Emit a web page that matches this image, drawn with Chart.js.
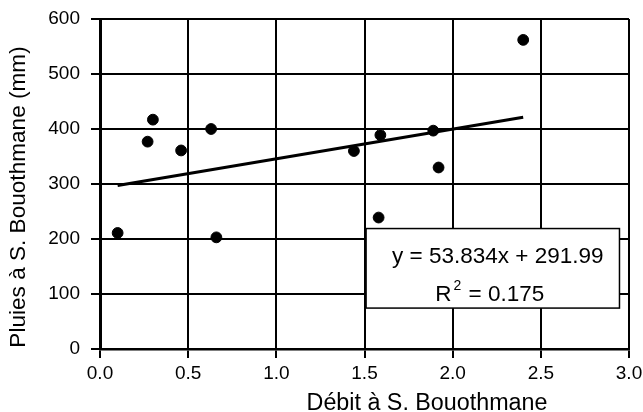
<!DOCTYPE html>
<html>
<head>
<meta charset="utf-8">
<script src="https://cdn.jsdelivr.net/npm/chart.js@4/dist/chart.umd.min.js"></script>
<style>
  html, body { margin: 0; padding: 0; background: #fff; }
  canvas { display: block; }
</style>
</head>
<body>
<canvas id="chart" width="643" height="412"></canvas>
<script>
// data
const debit = [0.10, 0.27, 0.30, 0.46, 0.63, 0.66, 1.44, 1.58, 1.59, 1.89, 1.92, 2.40];
const pluies = [211, 377, 417, 361, 400, 203, 360, 239, 389, 397, 330, 562];

const trendX = [0.10, 2.40];
const trendY = [297.4, 421.2];

const xTitle = 'Débit à S. Bouothmane';
const yTitle = 'Pluies à S. Bouothmane (mm)';
const eqLine = 'y = 53.834x + 291.99';
const r2Value = ' = 0.175';

const FONT = '"Liberation Sans", Arial, sans-serif';

const labelsPlugin = {
    id: 'labels',
    afterDatasetsDraw(chart) {
        const ctx = chart.ctx;
        const a = chart.chartArea;
        const w = a.right - a.left, h = a.bottom - a.top;

        // equation box
        const bx = a.left + w * 0.503, by = a.top + h * 0.635;
        const bw = w * 0.479, bh = h * 0.241;
        ctx.save();
        ctx.fillStyle = '#fff';
        ctx.fillRect(bx, by, bw, bh);
        ctx.strokeStyle = '#000';
        ctx.lineWidth = 1.5;
        ctx.strokeRect(bx, by, bw, bh);

        ctx.fillStyle = '#000';
        ctx.font = '22.5px ' + FONT;
        ctx.textBaseline = 'alphabetic';
        ctx.textAlign = 'center';
        ctx.fillText(eqLine, bx + bw / 2 + 5, by + 34);

        // R² line with small superscript
        ctx.textAlign = 'left';
        const rW = ctx.measureText('R').width;
        const restW = ctx.measureText(r2Value).width;
        ctx.font = '14px ' + FONT;
        const supW = ctx.measureText('2').width + 3;
        const total = rW + supW + restW;
        let x0 = bx + bw / 2 - total / 2 - 3;
        ctx.font = '22.5px ' + FONT;
        ctx.fillText('R', x0, by + 72);
        ctx.font = '14px ' + FONT;
        ctx.fillText('2', x0 + rW + 2, by + 61);
        ctx.font = '22.5px ' + FONT;
        ctx.fillText(r2Value, x0 + rW + supW, by + 72);

        // axis titles
        ctx.font = '23.3px ' + FONT;
        ctx.textAlign = 'center';
        ctx.fillText(xTitle, 427, 410);

        ctx.font = '22.6px ' + FONT;
        ctx.translate(25, 197);
        ctx.rotate(-Math.PI / 2);
        ctx.fillText(yTitle, 0, 0);
        ctx.restore();
    }
};

new Chart(document.getElementById('chart'), {
    type: 'scatter',
    data: {
        datasets: [
            {
                label: 'Pluies',
                data: debit.map((x, i) => ({ x: x, y: pluies[i] })),
                backgroundColor: '#000',
                borderColor: '#000',
                pointRadius: 5.4,
                pointHoverRadius: 5.4,
                order: 1
            },
            {
                type: 'line',
                label: 'Tendance',
                data: trendX.map((x, i) => ({ x: x, y: trendY[i] })),
                borderColor: '#000',
                borderWidth: 3,
                pointRadius: 0,
                fill: false,
                order: 2
            }
        ]
    },
    options: {
        responsive: false,
        animation: false,
        layout: { padding: { top: 19, right: 14, left: 0, bottom: 0 } },
        plugins: {
            legend: { display: false },
            tooltip: { enabled: false }
        },
        scales: {
            x: {
                type: 'linear',
                min: 0,
                max: 3,
                afterFit: s => { s.height = 63; s.paddingLeft = 0; s.paddingRight = 0; },
                ticks: {
                    stepSize: 0.5,
                    color: '#000',
                    padding: 4,
                    font: { family: FONT, size: 19 },
                    callback: v => v.toFixed(1)
                },
                grid: { color: '#000', lineWidth: 2, tickLength: 9 },
                border: { color: '#000', width: 2.6 }
            },
            y: {
                min: 0,
                max: 600,
                afterFit: s => { s.width = 100; s.paddingTop = 0; s.paddingBottom = 0; },
                ticks: {
                    stepSize: 100,
                    color: '#000',
                    padding: 11,
                    font: { family: FONT, size: 19 }
                },
                grid: { color: '#000', lineWidth: 2, tickLength: 9 },
                border: { color: '#000', width: 3 }
            }
        }
    },
    plugins: [labelsPlugin]
});
</script>
</body>
</html>
